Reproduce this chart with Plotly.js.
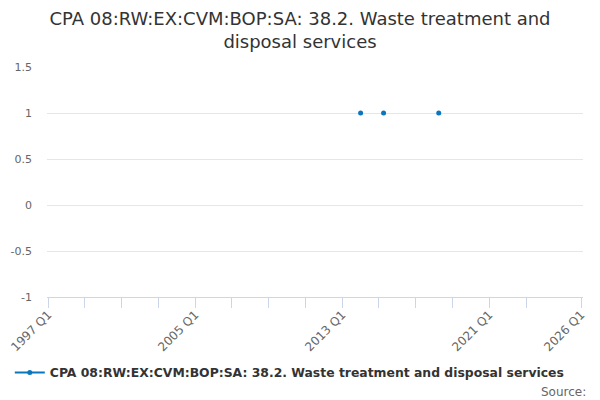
<!DOCTYPE html>
<html>
<head>
<meta charset="utf-8">
<script src="https://cdn.plot.ly/plotly-3.0.1.min.js"></script>
<style>html,body{margin:0;padding:0;background:#fff;}#chart{width:600px;height:400px;}</style>
</head>
<body>
<div id="chart"></div>
<script>
// Quarter categories 1997 Q1 .. 2026 Q1
var firstYear = 1997;
var lastYear = 2026;
var quarters = [];
for (var yr = firstYear; yr <= lastYear; yr++) {
  for (var q = 1; q <= 4; q++) {
    if (yr === lastYear && q > 1) break;
    quarters.push(yr + " Q" + q);
  }
}
// Series data (only these quarters have observations)
var seriesName = "CPA 08:RW:EX:CVM:BOP:SA: 38.2. Waste treatment and disposal services";
var pointQuarters = ["2014 Q1", "2015 Q2", "2018 Q2"];
var pointValues = [1, 1, 1];
// Tick marks and labels
var tickQuarters = ["1997 Q1","1999 Q1","2001 Q1","2003 Q1","2005 Q1","2007 Q1","2009 Q1","2011 Q1","2013 Q1","2015 Q1","2017 Q1","2019 Q1","2021 Q1","2023 Q1","2026 Q1"];
var labelledQuarters = ["1997 Q1","2005 Q1","2013 Q1","2021 Q1","2026 Q1"];
var yTicks = [-1, -0.5, 0, 0.5, 1, 1.5];

// Full series over all quarters, missing quarters left empty (gaps)
var xAll = quarters.map(function(s, i){ return i; });
var yAll = quarters.map(function(s){
  var k = pointQuarters.indexOf(s);
  return k >= 0 ? pointValues[k] : null;
});
var tickvals = tickQuarters.map(function(s){ return quarters.indexOf(s); });
var ticktext = tickQuarters.map(function(s){ return labelledQuarters.indexOf(s) >= 0 ? s : ""; });

var font = "DejaVu Sans, Verdana, sans-serif";
var trace = {
  x: xAll, y: yAll, name: seriesName, text: quarters,
  type: "scatter", mode: "lines+markers",
  line: {color: "#0a76be", width: 2},
  marker: {color: "#0a76be", size: 5},
  connectgaps: false,
  hoverinfo: "text+y"
};
var layout = {
  width: 600, height: 400,
  paper_bgcolor: "#ffffff", plot_bgcolor: "#ffffff",
  margin: {l: 47, r: 17, t: 67, b: 103},
  font: {family: font, color: "#333333"},
  title: {text: "CPA 08:RW:EX:CVM:BOP:SA: 38.2. Waste treatment and<br>disposal services",
          font: {family: font, size: 18, color: "#333333"}, x: 0.5, xanchor: "center", y: 0.938, yanchor: "middle"},
  showlegend: true,
  legend: {orientation: "h", x: 0.453, xanchor: "center", y: -0.33, yanchor: "middle",
           font: {family: font, size: 12.4, color: "#333333", weight: "bold"}},
  xaxis: {
    type: "linear", range: [-0.25, quarters.length - 1 + 0.4],
    tickmode: "array", tickvals: tickvals, ticktext: ticktext,
    tickangle: -45, ticks: "outside", ticklen: 10, tickcolor: "#ccd6eb", tickwidth: 1,
    ticklabelstandoff: -5,
    showline: true, linecolor: "#ccd6eb", linewidth: 1,
    showgrid: false, zeroline: false,
    tickfont: {family: font, size: 12, color: "#666666"}
  },
  yaxis: {
    range: [-1, 1.5], tickmode: "array", tickvals: yTicks,
    ticktext: yTicks.map(function(v){ return String(v); }),
    showgrid: true, gridcolor: "#e6e6e6", gridwidth: 1,
    zeroline: false, showline: false, ticks: "", ticklabelstandoff: 14,
    tickfont: {family: font, size: 11, color: "#666666"}
  },
  annotations: [{
    text: "Source:", xref: "paper", yref: "paper", x: 1.01, xanchor: "right",
    y: -0.413, yanchor: "middle", showarrow: false,
    font: {family: font, size: 12, color: "#666666"}
  }]
};
Plotly.newPlot("chart", [trace], layout, {displayModeBar: false, staticPlot: true});
</script>
</body>
</html>
